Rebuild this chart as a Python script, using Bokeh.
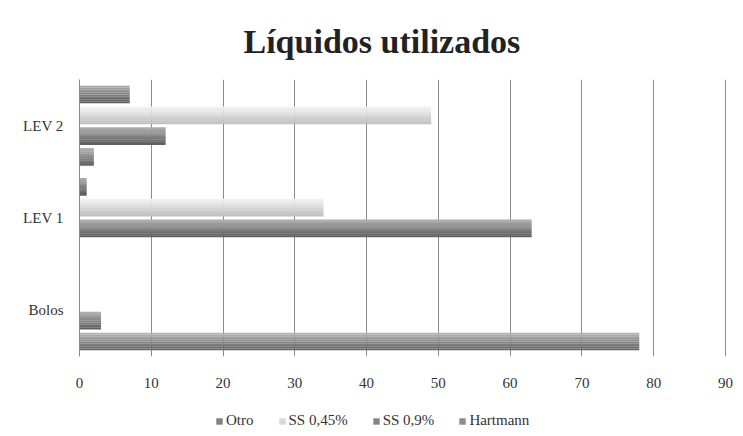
from bokeh.plotting import figure
from bokeh.layouts import column
from bokeh.models import FactorRange, Legend, LegendItem, ColumnDataSource
from bokeh.transform import dodge
from bokeh.embed import file_html
from bokeh.resources import INLINE

categories = ["Bolos", "LEV 1", "LEV 2"]
series = ["Hartmann", "SS 0,9%", "SS 0,45%", "Otro"]
hartmann = [78, 0, 2]
ss09 = [3, 63, 12]
ss045 = [0, 34, 49]
otro = [0, 1, 7]
x_ticks = [0, 10, 20, 30, 40, 50, 60, 70, 80, 90]

values = {"Hartmann": hartmann, "SS 0,9%": ss09, "SS 0,45%": ss045, "Otro": otro}
offsets = {"Hartmann": -0.3375, "SS 0,9%": -0.1125, "SS 0,45%": 0.1125, "Otro": 0.3375}
shades = {
    "Hartmann": ((0xb2, 0xb2, 0xb2), (0x66, 0x66, 0x66)),
    "SS 0,9%": ((0xac, 0xac, 0xac), (0x60, 0x60, 0x60)),
    "SS 0,45%": ((0xf2, 0xf2, 0xf2), (0xc0, 0xc0, 0xc0)),
    "Otro": ((0xa8, 0xa8, 0xa8), (0x5c, 0x5c, 0x5c)),
}
legend_order = ["Otro", "SS 0,45%", "SS 0,9%", "Hartmann"]

FONT = "Liberation Serif"

p = figure(width=735, height=398, y_range=FactorRange(*categories), x_range=(0, 90.15),
           output_backend="svg", toolbar_location=None,
           min_border_left=79, min_border_right=9, min_border_top=78, min_border_bottom=42)

src = ColumnDataSource(dict(cat=categories, **{s: values[s] for s in series}))

bar_h = 0.19
N = 10
for s in series:
    (r0, g0, b0), (r1, g1, b1) = shades[s]
    for k in range(N):
        t = k / (N - 1)
        col = "#%02x%02x%02x" % (int(r0 + (r1 - r0) * t), int(g0 + (g1 - g0) * t), int(b0 + (b1 - b0) * t))
        c = offsets[s] + bar_h / 2 - (k + 0.5) * bar_h / N
        p.hbar(y=dodge("cat", c, range=p.y_range), right=s, left=0, height=bar_h / N + 0.002,
               source=src, fill_color=col, line_color=None)

p.title.text = "Líquidos utilizados"
p.title.text_font = FONT
p.title.text_font_style = "bold"
p.title.text_font_size = "34px"
p.title.text_color = "#222222"
p.title.align = "left"
p.title.offset = 164
p.title.standoff = 40

p.xaxis.ticker = x_ticks
p.xaxis.axis_line_color = None
p.xaxis.major_tick_line_color = None
p.xaxis.minor_tick_line_color = None
p.xaxis.major_label_standoff = 15
p.xaxis.major_label_text_font = FONT
p.xaxis.major_label_text_font_size = "15px"
p.xaxis.major_label_text_color = "#333333"

p.yaxis.axis_line_color = "#8a8a8a"
p.yaxis.major_tick_line_color = None
p.yaxis.minor_tick_line_color = None
p.yaxis.major_label_standoff = 10
p.yaxis.major_label_text_font = FONT
p.yaxis.major_label_text_font_size = "15px"
p.yaxis.major_label_text_color = "#333333"

p.xgrid.grid_line_color = "#8a8a8a"
p.ygrid.grid_line_color = None
p.outline_line_color = None

# legend strip below the chart (swatch renderers sit outside the visible range)
leg_fig = figure(width=735, height=38, x_range=(0, 1), y_range=(0, 1),
                 output_backend="svg", toolbar_location=None,
                 min_border_left=0, min_border_right=0, min_border_top=0, min_border_bottom=0)
leg_fig.axis.visible = False
leg_fig.grid.visible = False
leg_fig.outline_line_color = None
items = []
for s in legend_order:
    mid = shades[s][0]
    lo = shades[s][1]
    col = "#%02x%02x%02x" % tuple((a + b) // 2 for a, b in zip(mid, lo))
    r = leg_fig.hbar(y=[-5], right=[-4], left=-5, height=0.5, fill_color=col, line_color=None)
    items.append(LegendItem(label=s, renderers=[r]))
legend = Legend(items=items, orientation="horizontal", location=(136, 7),
                label_text_font=FONT, label_text_font_size="15px", label_text_color="#333333",
                glyph_width=8, glyph_height=8, spacing=24, label_standoff=3,
                border_line_color=None, background_fill_alpha=0, margin=0, padding=2)
leg_fig.add_layout(legend, "center")

layout = column(p, leg_fig, spacing=0)
open("out.html", "w").write(file_html(layout, INLINE))
